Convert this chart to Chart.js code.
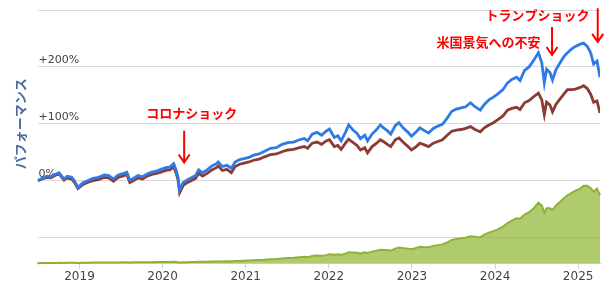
<!DOCTYPE html>
<html>
<head>
<meta charset="utf-8">
<script src="https://cdn.jsdelivr.net/npm/chart.js@4"></script>
<style>
  html, body { margin: 0; padding: 0; background: #fff; }
  #wrap { width: 608px; height: 292px; }
</style>
</head>
<body>
<div id="wrap"><canvas id="chart"></canvas></div>
<script>
const dates = [
  '2018-07-01','2018-07-20','2018-08-10','2018-08-28','2018-09-20','2018-10-03','2018-10-25','2018-11-08','2018-11-28','2018-12-10','2018-12-25',
  '2019-01-15','2019-02-05','2019-03-01','2019-03-25','2019-04-20','2019-05-10','2019-05-30','2019-06-20','2019-07-15','2019-07-28','2019-08-10','2019-08-25','2019-09-15','2019-10-05','2019-10-25','2019-11-15','2019-12-05','2019-12-25',
  '2020-01-15','2020-02-01','2020-02-19','2020-03-01','2020-03-09','2020-03-16','2020-04-01','2020-04-20','2020-05-05','2020-05-25','2020-06-08','2020-06-25','2020-07-15','2020-08-05','2020-08-25','2020-09-02','2020-09-20','2020-10-10','2020-10-30','2020-11-15','2020-12-05','2020-12-25',
  '2021-01-15','2021-02-05','2021-03-01','2021-03-25','2021-04-20','2021-05-15','2021-06-10','2021-07-05','2021-07-30','2021-08-25','2021-09-15','2021-09-30','2021-10-20','2021-11-10','2021-11-30','2021-12-20',
  '2022-01-04','2022-01-25','2022-02-10','2022-02-24','2022-03-15','2022-03-29','2022-04-15','2022-05-05','2022-05-20','2022-06-08','2022-06-20','2022-07-10','2022-07-30','2022-08-15','2022-09-01','2022-09-15','2022-09-30','2022-10-20','2022-11-05','2022-11-25','2022-12-15','2022-12-30',
  '2023-01-20','2023-02-05','2023-02-25','2023-03-15','2023-04-05','2023-04-25','2023-05-15','2023-06-05','2023-06-25','2023-07-15','2023-08-05','2023-08-25','2023-09-15','2023-10-05','2023-10-28','2023-11-15','2023-12-05','2023-12-25',
  '2024-01-15','2024-02-05','2024-02-25','2024-03-15','2024-04-05','2024-04-20','2024-05-10','2024-05-30','2024-06-20','2024-07-10','2024-07-25','2024-08-05','2024-08-15','2024-08-30','2024-09-10','2024-09-25','2024-10-10','2024-10-30','2024-11-15','2024-12-05','2024-12-20',
  '2025-01-10','2025-01-25','2025-02-10','2025-02-25','2025-03-10','2025-03-25','2025-04-07'
];

// performance in %
const bluePerf = [
  0,4,8,7,12,14,3,8,6,0,-12,
  -4,0,4,6,10,9,3,10,13,15,1,4,9,7,12,15,17,20,
  23,24,30,18,6,-16,-3,2,5,9,19,14,19,26,30,33,25,27,22,33,37,39,
  41,45,47,52,57,58,64,67,68,72,74,70,82,85,80,87,
  91,76,79,70,85,98,90,83,74,80,70,82,90,98,92,88,82,97,102,92,85,78,
  86,93,88,84,92,96,99,110,122,126,128,130,137,130,124,134,142,147,
  153,160,172,178,182,176,194,200,212,225,207,172,196,190,177,195,205,218,225,232,236,
  240,242,236,225,205,210,182
];
const brownPerf = [
  0,3,6,5,10,12,1,5,3,-3,-14,
  -7,-3,0,2,6,5,-1,6,9,11,-3,0,5,3,8,11,13,15,
  18,19,24,13,1,-21,-8,-3,0,4,13,8,13,19,23,26,18,20,14,25,29,31,
  33,36,38,42,46,47,51,54,55,58,60,57,66,68,64,70,
  72,60,62,55,66,73,68,62,54,58,49,60,66,72,68,64,60,72,75,67,60,54,
  60,66,63,60,66,69,72,80,87,89,90,92,95,90,86,93,98,102,
  108,114,124,127,129,125,137,141,148,154,142,116,138,133,121,134,142,152,160,160,161,
  164,167,162,152,138,140,119
];
// asset value (area, own scale)
const assetValue = [
  1,2,2,2,2,3,2,3,3,3,2,
  3,3,4,4,4,4,4,4,5,5,4,5,5,5,5,5,6,6,
  6,6,7,6,5,4,5,5,6,6,7,7,7,8,8,9,8,9,8,10,10,11,
  12,13,14,15,17,18,20,22,23,25,27,26,30,32,31,34,
  37,35,37,35,40,45,44,43,41,45,43,48,52,55,54,54,52,60,64,62,60,58,
  63,67,66,66,71,74,77,85,95,99,102,104,110,108,105,116,124,130,
  138,148,162,172,182,180,196,206,222,244,232,204,222,222,214,232,245,262,274,284,292,
  300,312,312,302,288,300,275
];

const yearTicks = [2019,2020,2021,2022,2023,2024,2025];
const perfTicks = [-100,0,100,200,300];
const perfTickLabels = ['','0%','+100%','+200%',''];

const events = [
  {text:'コロナショック', textDate:'2020-05-08', textY:119, arrowDate:'2020-04-05', from:88, to:32},
  {text:'米国景気への不安', textDate:'2023-12-03', textY:244, arrowDate:'2024-09-08', from:270, to:221},
  {text:'トランプショック', textDate:'2024-07-06', textY:291, arrowDate:'2025-03-28', from:303, to:244}
];

function toYear(s){
  const [y,m,d] = s.split('-').map(Number);
  const start = Date.UTC(y,0,1), end = Date.UTC(y+1,0,1);
  return y + (Date.UTC(y,m-1,d) - start) / (end - start);
}

const pts = arr => dates.map((d,i) => ({x: toYear(d), y: arr[i]}));

const eventPlugin = {
  id:'events',
  afterDatasetsDraw(chart){
    const ctx = chart.ctx;
    const xs = chart.scales.x, ys = chart.scales.y;
    ctx.save();
    ctx.strokeStyle = '#f00';
    ctx.fillStyle = '#f00';
    ctx.lineWidth = 2;
    ctx.font = 'bold 13px "Noto Sans CJK JP"';
    ctx.textAlign = 'center';
    ctx.textBaseline = 'middle';
    events.forEach(e => {
      ctx.fillText(e.text, xs.getPixelForValue(toYear(e.textDate)), ys.getPixelForValue(e.textY));
      const ax = xs.getPixelForValue(toYear(e.arrowDate));
      const y0 = ys.getPixelForValue(e.from), y1 = ys.getPixelForValue(e.to);
      ctx.beginPath();
      ctx.moveTo(ax, y0);
      ctx.lineTo(ax, y1);
      ctx.moveTo(ax - 5.5, y1 - 8);
      ctx.lineTo(ax, y1);
      ctx.lineTo(ax + 5.5, y1 - 8);
      ctx.stroke();
    });
    ctx.restore();
  }
};

const chart = document.querySelector('#chart').getContext('2d');
new Chart(chart, {
  type:'line',
  data:{
    datasets:[
      {
        label:'blue',
        data: pts(bluePerf),
        borderColor:'#2f7ae6',
        borderWidth:2.8,
        pointRadius:0,
        yAxisID:'y',
        order:0
      },
      {
        label:'brown',
        data: pts(brownPerf),
        borderColor:'#8c3a34',
        borderWidth:2.8,
        pointRadius:0,
        yAxisID:'y',
        order:1
      },
      {
        label:'asset',
        data: pts(assetValue),
        borderColor:'#8db335',
        backgroundColor:'rgba(142,181,48,0.7)',
        borderWidth:2,
        pointRadius:0,
        fill:'start',
        clip:false,
        yAxisID:'y2',
        order:2
      }
    ]
  },
  options:{
    responsive:true,
    maintainAspectRatio:false,
    animation:false,
    layout:{ padding:{ left:4, right:8, top:10, bottom:7 } },
    plugins:{ legend:{display:false}, tooltip:{enabled:false} },
    scales:{
      x:{
        type:'linear',
        min: toYear(dates[0]),
        max: toYear(dates[dates.length-1]),
        afterBuildTicks: axis => { axis.ticks = yearTicks.map(v => ({value:v})); },
        grid:{ drawOnChartArea:false, tickLength:5, color:'#c5d1df' },
        border:{ color:'#c5d1df' },
        ticks:{ padding:1, color:'#444', font:{family:'DejaVu Sans', size:12}, callback: v => String(v) }
      },
      y2:{
        position:'left',
        stack:'pane',
        stackWeight:26,
        min:0,
        max:104,
        grid:{ display:false },
        border:{ display:false },
        ticks:{ display:false }
      },
      y:{
        position:'left',
        stack:'pane',
        stackWeight:228,
        min:-100,
        max:300,
        afterBuildTicks: axis => { axis.ticks = perfTicks.map(v => ({value:v})); },
        grid:{ color:'#d9d9d9', drawTicks:false },
        border:{ display:false },
        ticks:{
          mirror:true,
          padding:1,
          labelOffset:-7,
          color:'#444',
          font:{family:'DejaVu Sans', size:11},
          callback: v => perfTickLabels[perfTicks.indexOf(v)]
        },
        title:{
          display:true,
          text:'パフォーマンス',
          color:'#4a6d9c',
          font:{family:'Noto Sans CJK JP', size:13, weight:'bold'},
          padding:{top:8, bottom:8}
        }
      }
    }
  },
  plugins:[eventPlugin]
});
</script>
</body>
</html>
